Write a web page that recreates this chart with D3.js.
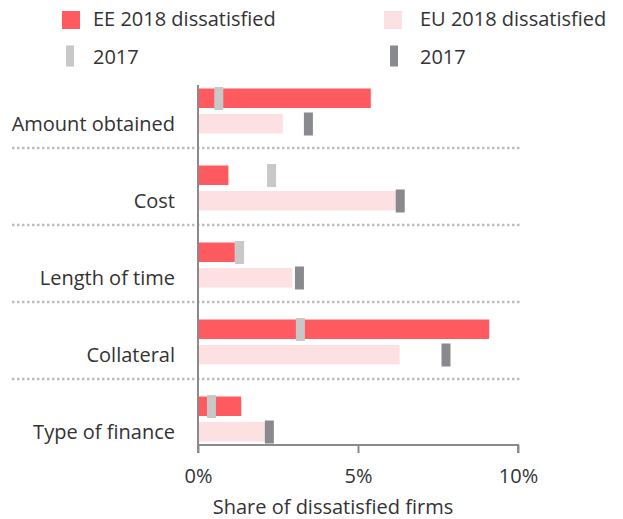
<!DOCTYPE html>
<html>
<head>
<meta charset="utf-8">
<script src="https://cdn.jsdelivr.net/npm/d3@7"></script>
<style>
  body { margin: 0; background: #fff; }
  text { font-family: "Segoe UI", "Open Sans", sans-serif; fill: #333; }
</style>
</head>
<body>
<svg id="chart" width="623" height="519"></svg>
<script>
// values, share of dissatisfied firms (%)
var categories = ["Amount obtained", "Cost", "Length of time", "Collateral", "Type of finance"];
var ee2018 = [5.4, 0.95, 1.15, 9.1, 1.35];
var ee2017 = [0.65, 2.3, 1.3, 3.2, 0.42];
var eu2018 = [2.65, 6.2, 2.95, 6.3, 2.1];
var eu2017 = [3.45, 6.32, 3.17, 7.75, 2.23];
var xTicks = [0, 5, 10];

var colors = { ee: "#ff5a5f", eu: "#fde0e1", ee17: "#c8c8c8", eu17: "#898a8d" };

var svg = d3.select("#chart");

var x = d3.scaleLinear().domain([0, 10]).range([198, 518]);

// one band per category, two bars inside
var y = d3.scaleBand().domain(categories).range([72.5, 457.5]).paddingInner(0).paddingOuter(0);
var barH = 19.5, gap = 6;
function rowTop(d) { return y(d) + (y.bandwidth() - (2 * barH + gap)) / 2; }

var axisY = 445;

// dotted separators
svg.append("g").selectAll("line")
  .data(categories.slice(1))
  .enter().append("line")
  .attr("x1", 12).attr("x2", 522)
  .attr("y1", function(d) { return y(d) - 1.5; })
  .attr("y2", function(d) { return y(d) - 1.5; })
  .attr("stroke", "#bdbdbd")
  .attr("stroke-width", 2.5)
  .attr("stroke-dasharray", "2.5,2.5");

var rows = categories.map(function(c, i) {
  return { cat: c, ee: ee2018[i], ee17: ee2017[i], eu: eu2018[i], eu17: eu2017[i] };
});

var bars = svg.append("g");
bars.selectAll(".ee").data(rows).enter().append("rect")
  .attr("x", x(0)).attr("y", function(d) { return rowTop(d.cat); })
  .attr("width", function(d) { return x(d.ee) - x(0); })
  .attr("height", barH).attr("fill", colors.ee);
bars.selectAll(".eu").data(rows).enter().append("rect")
  .attr("x", x(0)).attr("y", function(d) { return rowTop(d.cat) + barH + gap; })
  .attr("width", function(d) { return x(d.eu) - x(0); })
  .attr("height", barH).attr("fill", colors.eu);

// 2017 markers
var mw = 9, mh = 23;
bars.selectAll(".ee17").data(rows).enter().append("rect")
  .attr("x", function(d) { return x(d.ee17) - mw / 2; })
  .attr("y", function(d) { return rowTop(d.cat) - 1.5; })
  .attr("width", mw).attr("height", mh).attr("fill", colors.ee17);
bars.selectAll(".eu17").data(rows).enter().append("rect")
  .attr("x", function(d) { return x(d.eu17) - mw / 2; })
  .attr("y", function(d) { return rowTop(d.cat) + barH + gap - 1.5; })
  .attr("width", mw).attr("height", mh).attr("fill", colors.eu17);

// category labels, level with the EU bar
svg.append("g").selectAll("text").data(rows).enter().append("text")
  .attr("x", 175)
  .attr("y", function(d) { return rowTop(d.cat) + barH + gap + barH / 2; })
  .attr("text-anchor", "end")
  .attr("dominant-baseline", "central")
  .style("font-size", "20px")
  .text(function(d) { return d.cat; });

// vertical axis line
svg.append("line")
  .attr("x1", x(0)).attr("x2", x(0))
  .attr("y1", 85).attr("y2", axisY)
  .attr("stroke", "#8a8a8a").attr("stroke-width", 2);

// bottom axis
var xAxis = svg.append("g")
  .attr("transform", "translate(0," + axisY + ")")
  .call(d3.axisBottom(x).tickValues(xTicks).tickSize(8).tickPadding(12)
    .tickFormat(function(d) { return d + "%"; }));
xAxis.select(".domain").attr("stroke", "#8a8a8a").attr("stroke-width", 2)
  .attr("d", "M" + x(0) + ",8V0H" + x(10) + "V8");
xAxis.selectAll(".tick line").attr("stroke", "#8a8a8a").attr("stroke-width", 2);
xAxis.selectAll(".tick text").style("font-size", "20px").attr("fill", "#333")
  .attr("y", 30).attr("dy", null).attr("dominant-baseline", "central");

svg.append("text")
  .attr("x", 333).attr("y", 506)
  .attr("text-anchor", "middle").attr("dominant-baseline", "central")
  .style("font-size", "20px")
  .text("Share of dissatisfied firms");

// legend
var legend = [
  { label: "EE 2018 dissatisfied", color: colors.ee, x: 62, y: 11, w: 18, h: 18, tx: 93, ty: 18 },
  { label: "EU 2018 dissatisfied", color: colors.eu, x: 384, y: 11, w: 18, h: 18, tx: 420, ty: 18 },
  { label: "2017", color: colors.ee17, x: 66, y: 45.5, w: 8, h: 21, tx: 93, ty: 56 },
  { label: "2017", color: colors.eu17, x: 390, y: 45.5, w: 8, h: 21, tx: 420, ty: 56 }
];
var lg = svg.append("g").selectAll("g").data(legend).enter().append("g");
lg.append("rect")
  .attr("x", function(d) { return d.x; }).attr("y", function(d) { return d.y; })
  .attr("width", function(d) { return d.w; }).attr("height", function(d) { return d.h; })
  .attr("fill", function(d) { return d.color; });
lg.append("text")
  .attr("x", function(d) { return d.tx; }).attr("y", function(d) { return d.ty; })
  .attr("dominant-baseline", "central")
  .style("font-size", "20px")
  .text(function(d) { return d.label; });
</script>
</body>
</html>
